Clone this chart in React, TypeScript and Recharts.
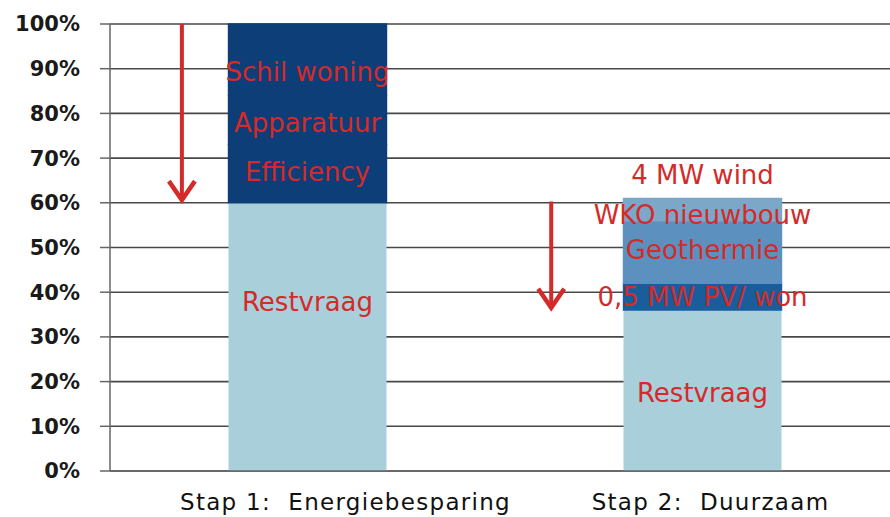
import React from "react";
import {
  BarChart,
  Bar,
  XAxis,
  YAxis,
  CartesianGrid,
  Cell,
  ReferenceLine,
  ReferenceDot,
} from "recharts";

const categories = ["Stap 1: Energiebesparing", "Stap 2: Duurzaam"];
const restvraag = [60, 36];
const segment1 = [13, 6]; // Efficiency / 0,5 MW PV
const segment2 = [11, 14]; // Apparatuur / Geothermie
const segment3 = [16, 5]; // Schil woning / WKO
const yTicks = [0, 10, 20, 30, 40, 50, 60, 70, 80, 90, 100];

const labelCats = [0, 0, 0, 0, 1, 1, 1, 1, 1];
const labelTexts = [
  "Schil woning",
  "Apparatuur",
  "Efficiency",
  "Restvraag",
  "4 MW wind",
  "WKO nieuwbouw",
  "Geothermie",
  "0,5 MW PV/ won",
  "Restvraag",
];
const labelValues = [89.3, 77.9, 66.9, 37.8, 66.2, 57.3, 49.4, 38.9, 17.4];

// arrows: position along a 0..1 horizontal scale, start and end values
const arrowX = [0.091, 0.5585];
const arrowFrom = [100, 60.3];
const arrowTo = [60.6, 36.5];

const tickShift = [38, 8];

const data = categories.map((c, i) => ({
  name: c,
  rest: restvraag[i],
  s1: segment1[i],
  s2: segment2[i],
  s3: segment3[i],
}));

const LIGHT = "#a9cfdb";
const DARK1 = "#0d3e77";
const s1Colors = [DARK1, "#1a5d9c"];
const s2Colors = [DARK1, "#5b90bf"];
const s3Colors = [DARK1, "#7ba7c8"];
const RED = "#d42a2a";
const FONT = "'DejaVu Sans', Verdana, sans-serif";

const Arrow = (p: any) => {
  const { x1, y1, x2, y2 } = p;
  return (
    <g>
      <line x1={x1} y1={y1} x2={x2} y2={y2 - 2} stroke={RED} strokeWidth={4} />
      <polyline
        points={`${x2 - 13},${y2 - 19} ${x2},${y2} ${x2 + 13},${y2 - 19}`}
        fill="none"
        stroke={RED}
        strokeWidth={4.5}
        strokeLinejoin="miter"
      />
    </g>
  );
};

const XTick = (p: any) => {
  const { x, y, payload, index } = p;
  return (
    <text
      x={x + (tickShift[index] || 0)}
      y={y}
      dy={31}
      textAnchor="middle"
      fontFamily={FONT}
      fontSize={23}
      letterSpacing={1.3}
      fill="#111"
      style={{ whiteSpace: "pre" }}
    >
      {payload.value.replace(": ", ":  ")}
    </text>
  );
};

export default function App() {
  return (
    <div
      style={{
        position: "absolute",
        left: 0,
        top: 0,
        width: 890,
        height: 517,
        overflow: "hidden",
        background: "#fff",
      }}
    >
      <BarChart
        width={900}
        height={517}
        data={data}
        margin={{ top: 24, right: 0, bottom: 0, left: 0 }}
        barCategoryGap="30%"
      >
        <CartesianGrid vertical={false} stroke="#484848" strokeWidth={1.6} />
        <XAxis
          dataKey="name"
          height={46}
          tickLine={false}
          axisLine={{ stroke: "#666", strokeWidth: 1.5 }}
          tick={<XTick />}
          interval={0}
        />
        <XAxis
          xAxisId="pos"
          type="number"
          domain={[0, 1]}
          allowDataOverflow={true}
          hide
        />
        <YAxis
          width={110}
          domain={[0, 100]}
          ticks={yTicks}
          tickFormatter={(v: number) => `${v}%`}
          tickSize={10}
          tickMargin={20}
          axisLine={{ stroke: "#666", strokeWidth: 1.5 }}
          tickLine={{ stroke: "#666", strokeWidth: 1.5 }}
          tick={{ fill: "#1a1a1a", fontSize: 21, fontWeight: "bold", fontFamily: FONT }}
        />
        <Bar dataKey="rest" stackId="a" fill={LIGHT} isAnimationActive={false} />
        <Bar dataKey="s1" stackId="a" isAnimationActive={false}>
          {data.map((_, i) => (
            <Cell key={i} fill={s1Colors[i]} stroke={s1Colors[i]} strokeWidth={1.4} />
          ))}
        </Bar>
        <Bar dataKey="s2" stackId="a" isAnimationActive={false}>
          {data.map((_, i) => (
            <Cell key={i} fill={s2Colors[i]} stroke={s2Colors[i]} strokeWidth={1.4} />
          ))}
        </Bar>
        <Bar dataKey="s3" stackId="a" isAnimationActive={false}>
          {data.map((_, i) => (
            <Cell key={i} fill={s3Colors[i]} stroke={s3Colors[i]} strokeWidth={1.4} />
          ))}
        </Bar>
        {arrowX.map((ax, i) => (
          <ReferenceLine
            key={"arrow" + i}
            xAxisId="pos"
            ifOverflow="visible"
            segment={[
              { x: ax, y: arrowFrom[i] },
              { x: ax, y: arrowTo[i] },
            ]}
            shape={<Arrow />}
          />
        ))}
        {labelTexts.map((t, i) => (
          <ReferenceDot
            key={"lbl" + i}
            x={categories[labelCats[i]]}
            y={labelValues[i]}
            r={0}
            shape={(p: any) => (
              <text
                x={p.cx}
                y={p.cy}
                textAnchor="middle"
                dominantBaseline="central"
                fontFamily={FONT}
                fontSize={26}
                fill={RED}
              >
                {t}
              </text>
            )}
          />
        ))}
      </BarChart>
    </div>
  );
}
